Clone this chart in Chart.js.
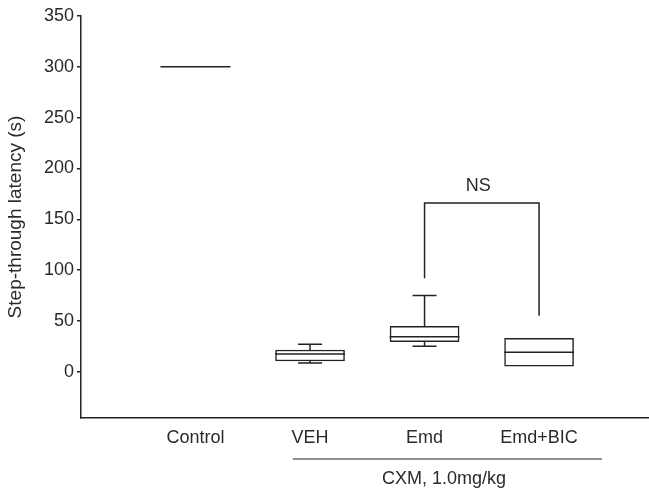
<!DOCTYPE html>
<html>
<head>
    <title>Step-through latency</title>
    <script src="https://cdn.jsdelivr.net/npm/chart.js"></script>
    <style>
        html, body { margin: 0; padding: 0; background: #fff; overflow: hidden; }
        #chart-container { position: relative; width: 649px; height: 492px; }
    </style>
</head>
<body>
    <div id="chart-container">
        <canvas id="myChart" width="649" height="492"></canvas>
    </div>

    <script>
        // Datos
        const groups = ['Control', 'VEH', 'Emd', 'Emd+BIC'];
        const groupPos = [1, 2, 3, 4];
        const q1 = [300, 10.6, 29.6, 5.6];
        const median = [300, 17.5, 34.5, 19.1];
        const q3 = [300, 21.4, 44.8, 33];
        const whiskerLow = [300, 8.6, 25, 5.6];
        const whiskerHigh = [300, 27, 75, 33];
        const yTicks = [0, 50, 100, 150, 200, 250, 300, 350];

        // Corchete NS entre Emd y Emd+BIC
        const nsLabel = 'NS';
        const nsLegs = [92, 55];
        const nsTop = 166;
        const treatmentLabel = 'CXM, 1.0mg/kg';

        const ink = '#222';
        const textInk = '#2a2a2a';
        const font = '"Liberation Sans", Arial, sans-serif';

        // Plugin: medianas, bigotes, corchete y etiqueta de tratamiento
        const boxExtras = {
            id: 'boxExtras',
            afterDatasetsDraw(chart) {
                const { ctx, scales: { x, y }, chartArea } = chart;
                const half = 35;
                const cap = 12;
                ctx.save();
                ctx.strokeStyle = ink;
                ctx.lineWidth = 1.5;
                ctx.lineCap = 'butt';

                groupPos.forEach((p, i) => {
                    const cx = x.getPixelForValue(p);
                    // mediana
                    ctx.beginPath();
                    ctx.moveTo(cx - half, y.getPixelForValue(median[i]));
                    ctx.lineTo(cx + half, y.getPixelForValue(median[i]));
                    ctx.stroke();
                    // bigotes
                    if (whiskerHigh[i] > q3[i]) {
                        const yt = y.getPixelForValue(whiskerHigh[i]);
                        ctx.beginPath();
                        ctx.moveTo(cx, y.getPixelForValue(q3[i]));
                        ctx.lineTo(cx, yt);
                        ctx.moveTo(cx - cap, yt);
                        ctx.lineTo(cx + cap, yt);
                        ctx.stroke();
                    }
                    if (whiskerLow[i] < q1[i]) {
                        const yb = y.getPixelForValue(whiskerLow[i]);
                        ctx.beginPath();
                        ctx.moveTo(cx, y.getPixelForValue(q1[i]));
                        ctx.lineTo(cx, yb);
                        ctx.moveTo(cx - cap, yb);
                        ctx.lineTo(cx + cap, yb);
                        ctx.stroke();
                    }
                });

                // corchete NS
                const xl = x.getPixelForValue(3);
                const xr = x.getPixelForValue(4);
                const yTop = y.getPixelForValue(nsTop);
                ctx.beginPath();
                ctx.moveTo(xl, y.getPixelForValue(nsLegs[0]));
                ctx.lineTo(xl, yTop);
                ctx.lineTo(xr, yTop);
                ctx.lineTo(xr, y.getPixelForValue(nsLegs[1]));
                ctx.stroke();

                ctx.fillStyle = textInk;
                ctx.font = '18px ' + font;
                ctx.textAlign = 'center';
                ctx.textBaseline = 'middle';
                ctx.fillText(nsLabel, x.getPixelForValue(3.47), yTop - 17);

                // línea y etiqueta de tratamiento
                const lineY = chartArea.bottom + 41;
                ctx.beginPath();
                ctx.lineWidth = 1.2;
                ctx.moveTo(x.getPixelForValue(1.85), lineY);
                ctx.lineTo(x.getPixelForValue(4.55), lineY);
                ctx.stroke();
                ctx.fillText(treatmentLabel, x.getPixelForValue(3.17), lineY + 20);
                ctx.restore();
            }
        };

        function renderChart() {
            const ctx = document.getElementById('myChart').getContext('2d');
            new Chart(ctx, {
                type: 'bar',
                data: {
                    datasets: [{
                        data: groupPos.slice(1).map((p, i) => ({ x: p, y: [q1[i + 1], q3[i + 1]] })),
                        backgroundColor: '#fff',
                        borderColor: ink,
                        borderWidth: 1.5,
                        borderSkipped: false,
                        barThickness: 69
                    }]
                },
                options: {
                    responsive: false,
                    animation: false,
                    layout: { padding: { top: 16, right: 0, bottom: 0, left: 0 } },
                    plugins: { legend: { display: false }, tooltip: { enabled: false } },
                    scales: {
                        x: {
                            type: 'linear',
                            offset: false,
                            min: 0,
                            max: 4.96,
                            grid: { display: false, drawTicks: false },
                            border: { display: true, color: ink, width: 1.5 },
                            afterBuildTicks: (s) => { s.ticks = groupPos.map(v => ({ value: v })); },
                            afterFit: (s) => { s.height = 74; },
                            ticks: {
                                padding: 9,
                                color: textInk,
                                font: { size: 18, family: font },
                                maxRotation: 0,
                                autoSkip: false,
                                callback: (v) => groups[groupPos.indexOf(v)]
                            }
                        },
                        y: {
                            min: -45.5,
                            max: 350,
                            afterBuildTicks: (s) => { s.ticks = yTicks.map(v => ({ value: v })); },
                            afterFit: (s) => { s.width = 81; },
                            grid: { display: true, drawOnChartArea: false, drawTicks: true, tickLength: 4, color: ink, lineWidth: 1.5 },
                            border: { display: true, color: ink, width: 1.5 },
                            ticks: {
                                padding: 3,
                                color: textInk,
                                autoSkip: false,
                                font: { size: 18, family: font }
                            },
                            title: {
                                display: true,
                                text: 'Step-through latency (s)',
                                color: textInk,
                                font: { size: 19, family: font },
                                padding: { top: 4, bottom: 0 }
                            }
                        }
                    }
                },
                plugins: [boxExtras]
            });
        }

        window.addEventListener('DOMContentLoaded', renderChart);
    </script>
</body>
</html>
